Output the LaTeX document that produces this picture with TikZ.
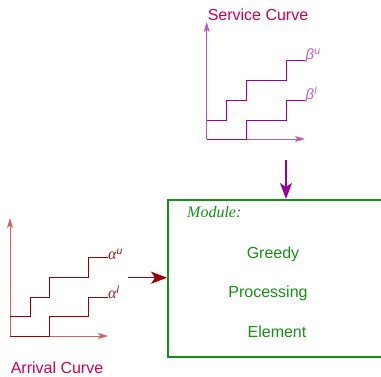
\documentclass[tikz,border=0pt]{standalone}
\usepackage{fontspec}
\setmainfont{Liberation Sans}
\newfontfamily\seriffont{Liberation Serif}
\usetikzlibrary{arrows.meta}
\definecolor{titlecol}{RGB}{204,0,85}
\definecolor{svcstair}{RGB}{153,0,153}
\definecolor{svcaxis}{RGB}{190,90,190}
\definecolor{svclabel}{RGB}{200,100,200}
\definecolor{arrstair}{RGB}{153,0,0}
\definecolor{arraxis}{RGB}{204,100,100}
\definecolor{arrlabel}{RGB}{153,30,30}
\definecolor{modgreen}{RGB}{20,145,20}
\tikzset{
  titletext/.style={text=titlecol, font=\fontsize{16}{18}\selectfont, inner sep=0pt, anchor=base},
  modtext/.style={text=modgreen, font=\fontsize{16}{18}\selectfont, inner sep=0pt, anchor=base},
  curvelabel/.style={font=\fontsize{15}{18}\selectfont\itshape, inner sep=0pt, anchor=base west},
  axisarrow/.style={line width=0.9pt, -{Stealth[length=10pt,width=6pt,inset=2.5pt]}},
  stair/.style={line width=0.9pt},
  bigarrow/.style={line width=1.5pt, -{Stealth[length=16pt,width=12pt,inset=4pt]}},
}
\begin{document}
\begin{tikzpicture}[x=1pt,y=-1pt]
\clip (0,0) rectangle (381,377);
% titles
\node[titletext] (svctitle) at (258,20.5) {Service Curve};
\node[titletext] (arrtitle) at (57,374) {Arrival Curve};
% service curve
\coordinate (so) at (206.7,139);
\coordinate (sy) at (206.7,22);
\coordinate (sx) at (305,139);
\draw[axisarrow, svcaxis] (so) -- (sy);
\draw[axisarrow, svcaxis] (so) -- (sx);
\draw[stair, svcstair] (206.7,120) -- (226.7,120) -- (226.7,100) -- (246,100) -- (246,80) -- (286.7,80) -- (286.7,60.7) -- (305,60.7);
\draw[stair, svcstair] (so) -- (246,139) -- (246,120) -- (286.7,120) -- (286.7,100) -- (305,100);
\node[curvelabel, text=svclabel] (bu) at (305.5,60) {β\textsuperscript{u}};
\node[curvelabel, text=svclabel] (bl) at (305.5,99.5) {β\textsuperscript{l}};
% arrival curve
\coordinate (ao) at (10,336);
\coordinate (ay) at (10,218);
\coordinate (ax) at (108,336);
\draw[axisarrow, arraxis] (ao) -- (ay);
\draw[axisarrow, arraxis] (ao) -- (ax);
\draw[stair, arrstair] (10,316.7) -- (30,316.7) -- (30,297.3) -- (49.3,297.3) -- (49.3,277.3) -- (88.3,277.3) -- (88.3,257.7) -- (108,257.7);
\draw[stair, arrstair] (ao) -- (49.3,336) -- (49.3,316.7) -- (88.3,316.7) -- (88.3,297.3) -- (108,297.3);
\node[curvelabel, text=arrlabel] (au) at (108,259.5) {{\seriffont\fontsize{16}{18}\selectfont α}\textsuperscript{u}};
\node[curvelabel, text=arrlabel] (al) at (108,298.5) {{\seriffont\fontsize{16}{18}\selectfont α}\textsuperscript{l}};
% module box
\node[draw=modgreen, line width=2.2pt, minimum width=225pt, minimum height=157pt, anchor=north west, inner sep=0pt] (module) at (167,199) {};
\node[modtext, anchor=base west, font=\seriffont\itshape\fontsize{16}{18}\selectfont] (modlabel) at (187,218) {Module:};
\node[modtext] (greedy) at (273,258.3) {Greedy};
\node[modtext] (proc) at (268,297.3) {Processing};
\node[modtext] (elem) at (277,337.3) {Element};
% connectors
\coordinate (sout) at (286,160);
\coordinate (aout) at (128,277.7);
\draw[bigarrow, svcstair] (sout) -- (sout |- module.north);
\draw[bigarrow, arrstair] (aout) -- (aout -| module.west);
\end{tikzpicture}
\end{document}
